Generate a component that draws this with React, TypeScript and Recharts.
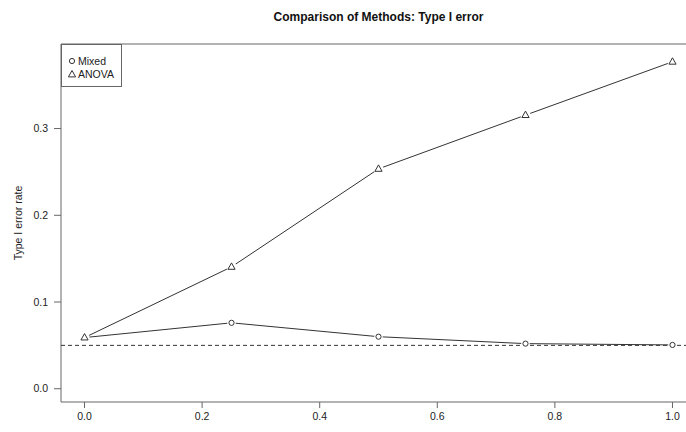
import React from 'react';
import { LineChart, Line, XAxis, YAxis, ReferenceLine, ReferenceArea, Legend } from 'recharts';

// ---- data ----
const xValues = [0, 0.25, 0.5, 0.75, 1.0];
const mixedRate = [0.059, 0.076, 0.06, 0.052, 0.0505];
const anovaRate = [0.059, 0.1405, 0.2535, 0.3155, 0.377];
const xTicks = [0, 0.2, 0.4, 0.6, 0.8, 1.0];
const yTicks = [0, 0.1, 0.2, 0.3];
const nominalAlpha = 0.05;
const seriesNames = ['Mixed', 'ANOVA'];
const titleText = 'Comparison of Methods: Type I error';
const yLabelText = 'Type I error rate';

const xDomain: [number, number] = [-0.04, 1.04];
const yDomain: [number, number] = [-0.0153, 0.3975];

const data = xValues.map((x, i) => ({ x, mixed: mixedRate[i], anova: anovaRate[i] }));

const FONT = '"Liberation Sans", Arial, Helvetica, sans-serif';
const INK = '#333';
const FRAME = '#666';
const TEXT = '#222';

const circleDot = (props: any) => {
  const { cx, cy, index } = props;
  if (cx == null || cy == null) return <g key={`c-${index}`} />;
  return (
    <g key={`c-${index}`}>
      <circle cx={cx} cy={cy} r={4.3} fill="#fff" stroke="none" />
      <circle cx={cx} cy={cy} r={2.6} fill="none" stroke={INK} strokeWidth={1} />
    </g>
  );
};

const triPath = (cx: number, cy: number) =>
  `M${cx},${cy - 4} L${cx - 3.6},${cy + 2.4} L${cx + 3.6},${cy + 2.4} Z`;

const triangleDot = (props: any) => {
  const { cx, cy, index } = props;
  if (cx == null || cy == null) return <g key={`t-${index}`} />;
  return (
    <g key={`t-${index}`}>
      <circle cx={cx} cy={cy} r={5} fill="#fff" stroke="none" />
      <path d={triPath(cx, cy)} fill="none" stroke={INK} strokeWidth={1} />
    </g>
  );
};

const LegendBox = () => (
  <div
    style={{
      position: 'relative',
      width: 61,
      height: 43,
      boxSizing: 'border-box',
      border: `1px solid ${FRAME}`,
      background: '#fff',
      fontFamily: FONT,
      fontSize: 10.5,
      color: TEXT,
    }}
  >
    {seriesNames.map((name, i) => (
      <div
        key={name}
        style={{ position: 'absolute', left: 0, top: 10 + i * 13, height: 12, width: 60 }}
      >
        <svg width={12} height={12} style={{ position: 'absolute', left: 4, top: 0 }}>
          {i === 0 ? (
            <circle cx={6} cy={6} r={2.6} fill="none" stroke={INK} strokeWidth={1} />
          ) : (
            <path d={triPath(6, 6.5)} fill="none" stroke={INK} strokeWidth={1} />
          )}
        </svg>
        <span style={{ position: 'absolute', left: 16, top: 0, lineHeight: '12px', whiteSpace: 'nowrap' }}>
          {name}
        </span>
      </div>
    ))}
  </div>
);

const renderYLabel = () => (
  <text
    x={18}
    y={223}
    transform="rotate(-90 18 223)"
    textAnchor="middle"
    dominantBaseline="central"
    fill={TEXT}
    fontSize={10.5}
    fontFamily={FONT}
  >
    {yLabelText}
  </text>
);

export default function App() {
  return (
    <div
      style={{
        position: 'absolute',
        left: 0,
        top: 0,
        width: 686,
        height: 432,
        overflow: 'hidden',
        background: '#fff',
        fontFamily: FONT,
      }}
    >
      <div
        style={{
          position: 'absolute',
          left: 378.5,
          top: 11,
          transform: 'translateX(-50%)',
          fontSize: 12,
          fontWeight: 'bold',
          lineHeight: '12px',
          whiteSpace: 'nowrap',
          color: '#111',
          zIndex: 2,
        }}
      >
        {titleText}
      </div>
      <LineChart
        width={700}
        height={432}
        data={data}
        margin={{ top: 44, right: 4, bottom: 0, left: 0 }}
      >
        <ReferenceArea
          x1={xDomain[0]}
          x2={xDomain[1]}
          y1={yDomain[0]}
          y2={yDomain[1]}
          fill="none"
          fillOpacity={0}
          stroke={FRAME}
          strokeWidth={1}
          ifOverflow="visible"
        />
        <XAxis
          dataKey="x"
          type="number"
          domain={xDomain}
          ticks={xTicks}
          allowDataOverflow
          axisLine={false}
          tickLine={{ stroke: FRAME }}
          tickSize={6}
          tickMargin={5}
          height={30}
          tick={{ fill: TEXT, fontSize: 10.5, fontFamily: FONT }}
          tickFormatter={(v: number) => v.toFixed(1)}
        />
        <YAxis
          type="number"
          domain={yDomain}
          ticks={yTicks}
          allowDataOverflow
          axisLine={false}
          tickLine={{ stroke: FRAME }}
          tickSize={7}
          tickMargin={6}
          width={61}
          tick={{ fill: TEXT, fontSize: 10.5, fontFamily: FONT }}
          tickFormatter={(v: number) => v.toFixed(1)}
          label={renderYLabel}
        />
        <Line
          dataKey="mixed"
          name={seriesNames[0]}
          type="linear"
          stroke={INK}
          strokeWidth={1}
          dot={circleDot}
          activeDot={false}
          isAnimationActive={false}
        />
        <Line
          dataKey="anova"
          name={seriesNames[1]}
          type="linear"
          stroke={INK}
          strokeWidth={1}
          dot={triangleDot}
          activeDot={false}
          isAnimationActive={false}
        />
        <ReferenceLine
          y={nominalAlpha}
          stroke={INK}
          strokeWidth={1}
          strokeDasharray="4 3"
          ifOverflow="visible"
        />
        <Legend
          layout="vertical"
          align="center"
          verticalAlign="middle"
          wrapperStyle={{ position: 'absolute', left: 61, top: 44, width: 61, height: 43 }}
          content={() => <LegendBox />}
        />
      </LineChart>
    </div>
  );
}
